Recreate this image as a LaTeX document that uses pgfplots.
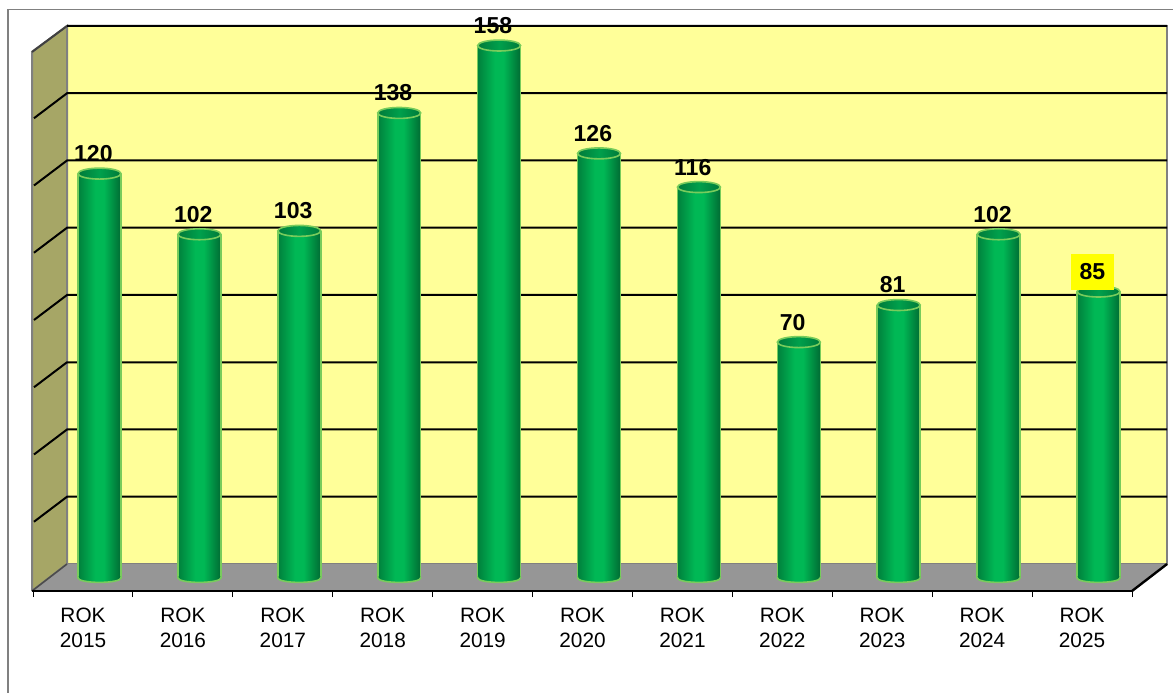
\documentclass[border=0pt]{standalone}
\usepackage{pgfplots}
\usepackage{pgfplotstable}
\usepackage{fontspec}
\setmainfont{Liberation Sans}
\pgfplotsset{compat=1.18}
\definecolor{wallY}{HTML}{FFFF99}
\definecolor{sideW}{HTML}{A6A666}
\definecolor{floorG}{HTML}{969696}
\definecolor{edgeG}{HTML}{808080}
\definecolor{rim}{HTML}{78CC5C}
\definecolor{gDark}{HTML}{00803C}
\definecolor{gDarkR}{HTML}{006B33}
\definecolor{gMid}{HTML}{00B855}
\definecolor{gTopL}{HTML}{007A3A}
\definecolor{gTopM}{HTML}{00A04C}
\definecolor{hiY}{HTML}{FFFF00}
\pgfdeclarehorizontalshading{cyl}{100bp}{color(0bp)=(gDark); color(25bp)=(gDark); color(45bp)=(gMid); color(55bp)=(gMid); color(75bp)=(gDarkR); color(100bp)=(gDarkR)}
\pgfdeclarehorizontalshading{cyltopsh}{100bp}{color(0bp)=(gTopL); color(25bp)=(gTopL); color(50bp)=(gTopM); color(75bp)=(gTopL); color(100bp)=(gTopL)}
\pgfdeclareplotmark{cyltop}{%
  \path[shading=cyltopsh,draw=rim,line width=1.2pt] (0pt,0pt) ellipse [x radius=16.1pt,y radius=4.1pt];}
\pgfdeclareplotmark{cylbot}{%
  \path[shading=cyl,draw=none] (-16.1pt,1pt) -- (-16.1pt,0pt) arc[start angle=180,end angle=360,x radius=16.1pt,y radius=3.3pt] -- (16.1pt,1pt) -- cycle;
  \draw[rim,line width=1.2pt] (-16.1pt,1pt) -- (-16.1pt,0pt) arc[start angle=180,end angle=360,x radius=16.1pt,y radius=3.3pt] -- (16.1pt,1pt);}
\pgfplotstableread{
i v
0 120
1 102
2 103
3 138
4 158
5 126
6 116
7 70
8 81
9 102
10 85
}\bars
\pgfplotstableread{
i v
0 120
1 102
2 103
3 138
4 158
5 126
6 116
7 70
8 81
9 102
}\labelsplain
\pgfplotsset{cylbar/.style={ybar,/pgf/bar shift=0pt,bar width=32.25pt,shading=cyl,draw=none,forget plot}}
\begin{document}
\begin{tikzpicture}
\useasboundingbox (-24pt,-76.5pt) rectangle (855.75pt,443.25pt);
\begin{axis}[
  at={(0pt,0pt)},anchor=south west,
  /pgf/number format/assume math mode=true,
  scale only axis,width=825pt,height=423.75pt,
  xmin=-0.6757,xmax=10.335,ymin=-3.86,ymax=163.8,
  clip=false,axis on top,
  axis x line=bottom,hide y axis,
  axis line style={-,black,line width=2pt},
  xtick={-0.165,0.835,1.835,2.835,3.835,4.835,5.835,6.835,7.835,8.835,9.835},
  xticklabels={{ROK\\2015},{ROK\\2016},{ROK\\2017},{ROK\\2018},{ROK\\2019},{ROK\\2020},{ROK\\2021},{ROK\\2022},{ROK\\2023},{ROK\\2024},{ROK\\2025}},
  major tick length=0pt,
  xticklabel style={align=center,font=\fontsize{15.6}{18.8}\selectfont,text=black,yshift=-9.25pt},
  extra x ticks={-0.665,0.335,1.335,2.335,3.335,4.335,5.335,6.335,7.335,8.335,9.335,10.335},
  extra x tick labels={},
  extra x tick style={major tick length=4.5pt,tick style={black,line width=0.75pt},tick align=outside},
  unbounded coords=jump,
]
% outer frame
\addplot[edgeG,line width=0.9pt,forget plot] coordinates {(-0.916,-34.1) (-0.916,168.7) (10.746,168.7)};
% walls and floor
\addplot[fill=wallY,draw=edgeG,line width=1pt,forget plot] coordinates {(-0.325,4.15) (10.686,4.15) (10.686,163.81) (-0.325,163.81) (-0.325,4.15)};
\addplot[fill=sideW,draw=edgeG,line width=1.5pt,forget plot] coordinates {(-0.6757,-3.86) (-0.325,4.15) (-0.325,163.81) (-0.6757,156.1) (-0.6757,-3.86)};
\addplot[fill=floorG,draw=none,forget plot] coordinates {(-0.6757,-3.86) (-0.325,4.15) (10.686,4.15) (10.335,-3.86) (-0.6757,-3.86)};
% diagonal edges
\addplot[black,line width=1.8pt,forget plot] coordinates {(10.335,-3.86) (10.686,4.15)};
\addplot[black!75,line width=1.5pt,forget plot] coordinates {(-0.6757,156.1) (-0.325,163.81)};
\addplot[black!70,line width=1.2pt,forget plot] coordinates {(-0.6757,-3.86) (-0.325,4.15)};
% gridlines
\addplot[black,line width=1.5pt,forget plot] coordinates {
(-0.656,16.69) (-0.325,24.11) (10.686,24.11) (0,nan)
(-0.656,36.65) (-0.325,44.07) (10.686,44.07) (0,nan)
(-0.656,56.60) (-0.325,64.02) (10.686,64.02) (0,nan)
(-0.656,76.56) (-0.325,83.98) (10.686,83.98) (0,nan)
(-0.656,96.52) (-0.325,103.94) (10.686,103.94) (0,nan)
(-0.656,116.47) (-0.325,123.89) (10.686,123.89) (0,nan)
(-0.656,136.43) (-0.325,143.85) (10.686,143.85) (0,nan)
(-0.325,163.81) (10.686,163.81)
};
% cylinders
\addplot[cylbar] coordinates {(0,120)};
\addplot[cylbar] coordinates {(1,102)};
\addplot[cylbar] coordinates {(2,103)};
\addplot[cylbar] coordinates {(3,138)};
\addplot[cylbar] coordinates {(4,158)};
\addplot[cylbar] coordinates {(5,126)};
\addplot[cylbar] coordinates {(6,116)};
\addplot[cylbar] coordinates {(7,70)};
\addplot[cylbar] coordinates {(8,81)};
\addplot[cylbar] coordinates {(9,102)};
\addplot[cylbar] coordinates {(10,85)};
% cylinder side edges
\addplot[ycomb,rim,line width=1.2pt,xshift=-16.1pt,forget plot] table[x=i,y=v] {\bars};
\addplot[ycomb,rim,line width=1.2pt,xshift=16.1pt,forget plot] table[x=i,y=v] {\bars};
\addplot[only marks,mark=cylbot,forget plot] table[x=i,y expr=0] {\bars};
\addplot[only marks,mark=cyltop,forget plot] table[x=i,y=v] {\bars};
% value labels
\addplot[only marks,mark=none,forget plot,
  nodes near coords={\pgfmathprintnumber{\pgfplotspointmeta}},
  every node near coord/.append style={anchor=center,xshift=-4.6pt,yshift=15pt,font=\fontsize{17.3}{20}\selectfont\bfseries,text=black,inner sep=0pt}]
  table[x=i,y=v] {\labelsplain};
\addplot[only marks,mark=none,forget plot,
  nodes near coords={\pgfmathprintnumber{\pgfplotspointmeta}},
  every node near coord/.append style={anchor=center,xshift=-4.6pt,yshift=15pt,font=\fontsize{17.3}{20}\selectfont\bfseries,text=black,inner sep=0pt,fill=hiY,minimum width=32pt,minimum height=27pt}]
  coordinates {(10,85)};
\end{axis}
\end{tikzpicture}
\end{document}
